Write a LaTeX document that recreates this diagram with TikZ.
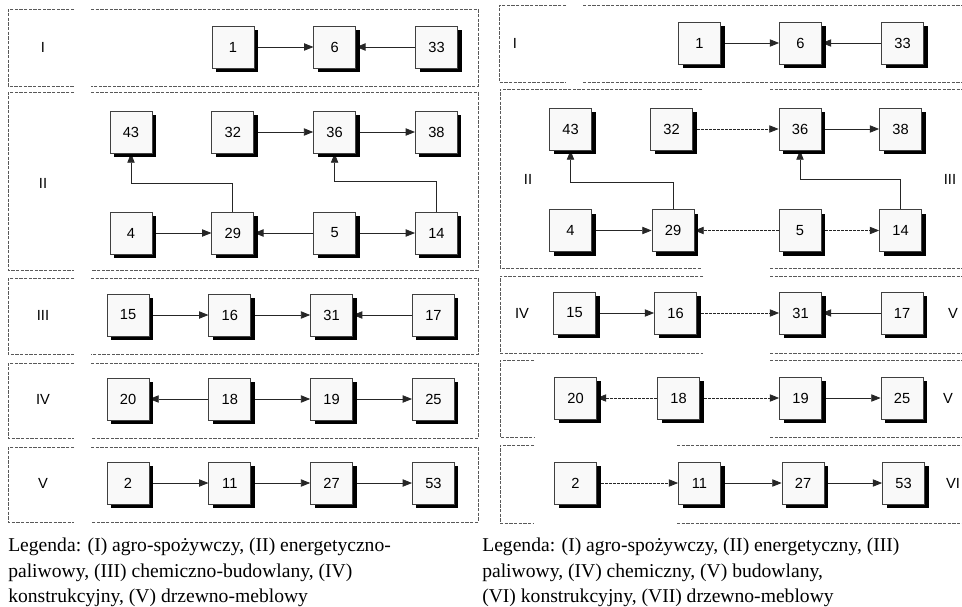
\documentclass[tikz,border=0pt]{standalone}
\usepackage{fontspec}
\setmainfont{Liberation Serif}
\setsansfont{Liberation Sans}
\usetikzlibrary{arrows.meta, positioning, shadows, backgrounds}

\begin{document}
\begin{tikzpicture}[x=0.75pt, y=-0.75pt, node distance=44.25pt,
  blok/.style={rectangle, draw=black!75, fill=gray!5, line width=0.6pt, minimum size=31.5pt, inner sep=0pt, font=\sffamily\fontsize{11}{13}\selectfont, drop shadow={shadow xshift=3pt, shadow yshift=-3pt, fill=black, opacity=1}},
  etykieta/.style={font=\sffamily\fontsize{11}{13}\selectfont},
  ramka/.style={draw=black!65, line width=0.6pt, dash pattern=on 2.5pt off 1pt},
  strzalka/.style={draw=black!85, line width=0.6pt, -{Triangle[length=7pt,width=5.5pt]}},
  przerywana/.style={strzalka, dash pattern=on 2pt off 1pt},
  legenda/.style={font=\fontsize{14.7}{19}\selectfont, align=left, inner sep=0pt, anchor=north west}]
\useasboundingbox (0,0) rectangle (962,606);

% lewy panel - ramki
\foreach \g/\d in {9/86, 92/270, 278/354, 363/438, 447/522} {
  \draw[ramka] (74,\g) -| (8,\d) -- (74,\d);
  \draw[ramka] (91,\g) -| (478,\d) -- (91,\d);
}

% prawy panel - ramki
\draw[ramka] (566,5) -| (499,82) -- (566,82);
\draw[ramka] (583,5) -- (962,5) (583,82) -- (962,82);
\foreach \g/\d/\a/\b in {89/268/702/770, 276/353/703/770, 360/437/534/770, 445/523/534/677} {
  \draw[ramka] (\a,\g) -| (500,\d) -- (\a,\d);
  \draw[ramka] (\b,\g) -- (962,\g) (\b,\d) -- (962,\d);
}

% lewy panel - sektory
\node[etykieta] (lI) at (43,47) {I};
\node[etykieta] (lII) at (43,183) {II};
\node[etykieta] (lIII) at (43,315) {III};
\node[etykieta] (lIV) at (43,399) {IV};
\node[etykieta] (lV) at (43,483) {V};

\node[blok] (l1) at (233,47) {1};
\node[blok, right=of l1] (l6) {6};
\node[blok, right=of l6] (l33) {33};

\node[blok] (l43) at (131,132) {43};
\node[blok, right=of l43] (l32) {32};
\node[blok, right=of l32] (l36) {36};
\node[blok, right=of l36] (l38) {38};
\node[blok] (l4) at (131,233) {4};
\node[blok, right=of l4] (l29) {29};
\node[blok, right=of l29] (l5) {5};
\node[blok, right=of l5] (l14) {14};

\node[blok] (l15) at (128,315) {15};
\node[blok, right=of l15] (l16) {16};
\node[blok, right=of l16] (l31) {31};
\node[blok, right=of l31] (l17) {17};

\node[blok] (l20) at (128,399) {20};
\node[blok, right=of l20] (l18) {18};
\node[blok, right=of l18] (l19) {19};
\node[blok, right=of l19] (l25) {25};

\node[blok] (l2) at (128,483) {2};
\node[blok, right=of l2] (l11) {11};
\node[blok, right=of l11] (l27) {27};
\node[blok, right=of l27] (l53) {53};

% prawy panel - sektory
\node[etykieta] (pI) at (515,43) {I};
\node[etykieta] (pII) at (528,179) {II};
\node[etykieta] (pIII) at (950,179) {III};
\node[etykieta] (pIV) at (522,313) {IV};
\node[etykieta] (pV) at (953,313) {V};
\node[etykieta] (pVI) at (948,398) {V};
\node[etykieta] (pVII) at (953,483) {VI};

\node[blok] (p1) at (699.5,43) {1};
\node[blok] (p6) at (800.5,43) {6};
\node[blok] (p33) at (902.5,43) {33};

\node[blok] (p43) at (570.5,129) {43};
\node[blok] (p32) at (671.5,129) {32};
\node[blok] (p36) at (800,129) {36};
\node[blok] (p38) at (900.5,129) {38};
\node[blok] (p4) at (570.5,230.5) {4};
\node[blok] (p29) at (673,230.5) {29};
\node[blok] (p5) at (800,230.5) {5};
\node[blok] (p14) at (900.5,230.5) {14};

\node[blok] (p15) at (574.5,313) {15};
\node[blok] (p16) at (675.5,313) {16};
\node[blok] (p31) at (800.5,313) {31};
\node[blok] (p17) at (902,313) {17};

\node[blok] (p20) at (575.5,398) {20};
\node[blok] (p18) at (678.5,398) {18};
\node[blok] (p19) at (800.5,398) {19};
\node[blok] (p25) at (902,398) {25};

\node[blok] (p2) at (575.5,483) {2};
\node[blok] (p11) at (699.5,483) {11};
\node[blok] (p27) at (803,483) {27};
\node[blok] (p53) at (903.5,483) {53};

% powiazania
\begin{scope}[on background layer]
\draw[strzalka] (l1) -- (l6);
\draw[strzalka] (l33) -- (l6);
\draw[strzalka] (l32) -- (l36);
\draw[strzalka] (l36) -- (l38);
\draw[strzalka] (l4) -- (l29);
\draw[strzalka] (l5) -- (l29);
\draw[strzalka] (l5) -- (l14);
\draw[strzalka] (l29.north) -- ++(0,-28) -| (l43.south);
\draw[strzalka] (l14.north) -- ++(0,-30) -| (l36.south);
\draw[strzalka] (l15) -- (l16);
\draw[strzalka] (l16) -- (l31);
\draw[strzalka] (l17) -- (l31);
\draw[strzalka] (l18) -- (l20);
\draw[strzalka] (l18) -- (l19);
\draw[strzalka] (l19) -- (l25);
\draw[strzalka] (l2) -- (l11);
\draw[strzalka] (l11) -- (l27);
\draw[strzalka] (l27) -- (l53);

\draw[strzalka] (p1) -- (p6);
\draw[strzalka] (p33) -- (p6);
\draw[przerywana] (p32) -- (p36);
\draw[strzalka] (p36) -- (p38);
\draw[strzalka] (p4) -- (p29);
\draw[przerywana] (p5) -- (p29);
\draw[przerywana] (p5) -- (p14);
\draw[strzalka] (p29.north) -- ++(0,-27) -| (p43.south);
\draw[strzalka] (p14.north) -- ++(0,-30) -| (p36.south);
\draw[strzalka] (p15) -- (p16);
\draw[przerywana] (p16) -- (p31);
\draw[strzalka] (p17) -- (p31);
\draw[przerywana] (p18) -- (p20);
\draw[przerywana] (p18) -- (p19);
\draw[strzalka] (p19) -- (p25);
\draw[przerywana] (p2) -- (p11);
\draw[strzalka] (p11) -- (p27);
\draw[strzalka] (p27) -- (p53);
\end{scope}

% legendy
\node[legenda] (legL) at (8,538) {Legenda: (I) agro-spożywczy, (II) energetyczno-\\paliwowy, (III) chemiczno-budowlany, (IV)\\konstrukcyjny, (V) drzewno-meblowy};
\node[legenda] (legP) at (482,538) {Legenda: (I) agro-spożywczy, (II) energetyczny, (III)\\paliwowy, (IV) chemiczny, (V) budowlany,\\(VI) konstrukcyjny, (VII) drzewno-meblowy};
\end{tikzpicture}
\end{document}
